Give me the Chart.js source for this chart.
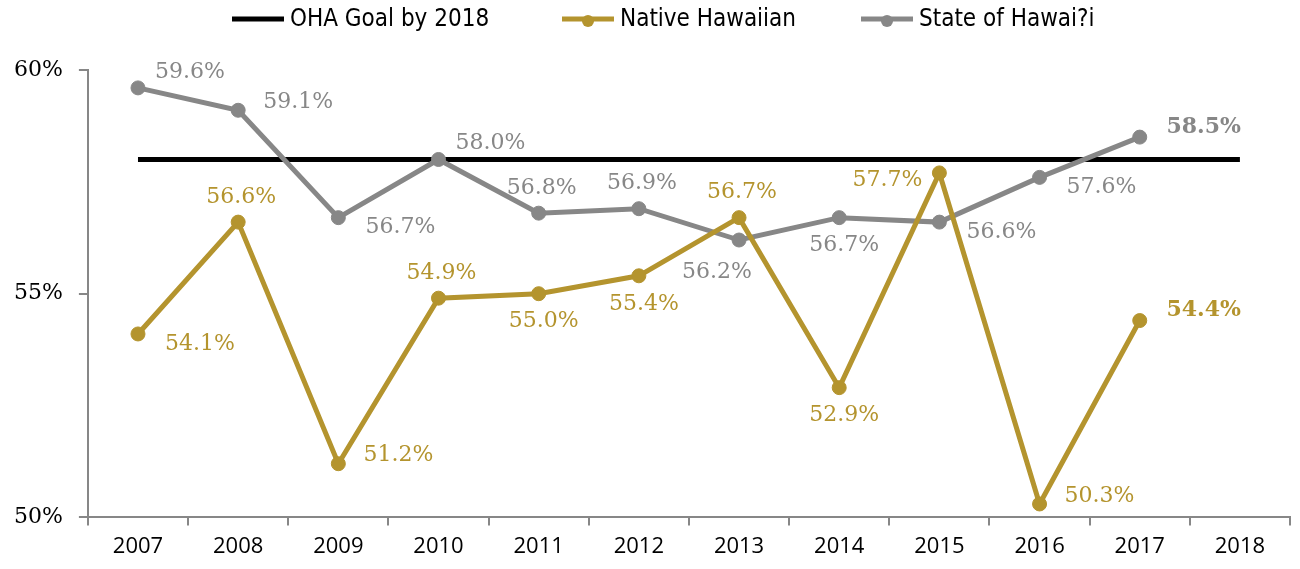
<!DOCTYPE html>
<html>
<head>
<meta charset="utf-8">
<script src="https://cdn.jsdelivr.net/npm/chart.js@4.4.1/dist/chart.umd.min.js"></script>
<style>
  html, body { margin: 0; padding: 0; background: #fff; }
  #wrap { width: 1300px; height: 569px; position: relative; }
</style>
</head>
<body>
<div id="wrap"><canvas id="chart"></canvas></div>
<script>
const years = ['2007', '2008', '2009', '2010', '2011', '2012', '2013', '2014', '2015', '2016', '2017', '2018'];
const goal = [58, 58, 58, 58, 58, 58, 58, 58, 58, 58, 58, 58];
const native = [54.1, 56.6, 51.2, 54.9, 55.0, 55.4, 56.7, 52.9, 57.7, 50.3, 54.4, null];
const state = [59.6, 59.1, 56.7, 58.0, 56.8, 56.9, 56.2, 56.7, 56.6, 57.6, 58.5, null];
const yTicks = [50, 55, 60];

// where each value label sits relative to its point
const nativePos = ['rd', 'up', 'r', 'up', 'dn', 'dn', 'up', 'dn', 'l', 'r', 'rb', null];
const statePos = ['ru', 'r', 'rd', 'ru', 'up', 'up', 'dl', 'dn', 'rd', 'rd', 'rb', null];

const GOLD = '#b4942e', GRAY = '#878787';
const serif = '"DejaVu Serif", "Liberation Serif", serif';

const offsets = {
  r: [60, -8], rd: [62, 10], ru: [52, -16], up: [3, -25], dn: [5, 28],
  dl: [-22, 32], l: [-52, 7], rb: [64, -10]
};

const labelPlugin = {
  id: 'valueLabels',
  afterDatasetsDraw(c) {
    const ctx = c.ctx;
    [[1, nativePos, GOLD], [2, statePos, GRAY]].forEach(([di, pos, col]) => {
      const meta = c.getDatasetMeta(di);
      const data = c.data.datasets[di].data;
      meta.data.forEach((pt, i) => {
        if (data[i] == null || !pos[i]) return;
        const o = offsets[pos[i]];
        ctx.save();
        ctx.fillStyle = col;
        ctx.font = (pos[i] === 'rb' ? 'bold ' : '') + '22px ' + serif;
        ctx.textAlign = 'center';
        ctx.textBaseline = 'middle';
        ctx.fillText(data[i].toFixed(1) + '%', pt.x + o[0], pt.y + o[1]);
        ctx.restore();
      });
    });
  }
};

const legendPlugin = {
  id: 'topLegend',
  afterDraw(c) {
    const ctx = c.ctx;
    const items = [
      { text: 'OHA Goal by 2018', color: '#000', x: 232, marker: false },
      { text: 'Native Hawaiian', color: GOLD, x: 562, marker: true },
      { text: 'State of Hawai?i', color: GRAY, x: 861, marker: true }
    ];
    ctx.save();
    ctx.font = '24px "Liberation Sans Narrow", "DejaVu Sans Condensed", sans-serif';
    ctx.textBaseline = 'middle';
    items.forEach(it => {
      const y = 19;
      ctx.strokeStyle = it.color;
      ctx.lineWidth = 5;
      ctx.beginPath();
      ctx.moveTo(it.x, y);
      ctx.lineTo(it.x + 52, y);
      ctx.stroke();
      if (it.marker) {
        ctx.fillStyle = it.color;
        ctx.beginPath();
        ctx.arc(it.x + 26, y + 2, 6, 0, Math.PI * 2);
        ctx.fill();
      }
      ctx.fillStyle = '#000';
      ctx.fillText(it.text, it.x + 58, y + 1);
    });
    ctx.restore();
  }
};

new Chart(document.getElementById('chart'), {
  type: 'line',
  data: {
    labels: years,
    datasets: [
      { label: 'OHA Goal by 2018', data: goal, borderColor: '#000', borderWidth: 5, pointRadius: 0, order: 3 },
      { label: 'Native Hawaiian', data: native, borderColor: GOLD, backgroundColor: GOLD, borderWidth: 5,
        pointRadius: 7, pointBorderWidth: 1, pointBorderColor: GOLD, order: 1 },
      { label: 'State of Hawai?i', data: state, borderColor: GRAY, backgroundColor: GRAY, borderWidth: 5,
        pointRadius: 7, pointBorderWidth: 1, pointBorderColor: GRAY, order: 2 }
    ]
  },
  options: {
    responsive: true,
    maintainAspectRatio: false,
    animation: false,
    layout: { padding: { top: 70, right: 10, left: -2, bottom: 0 } },
    plugins: { legend: { display: false }, tooltip: { enabled: false } },
    scales: {
      x: {
        offset: true,
        grid: { offset: true, drawOnChartArea: false, color: GRAY, tickLength: 8, lineWidth: 2 },
        border: { color: GRAY, width: 2 },
        ticks: { color: '#000', font: { family: '"Open Sans", sans-serif', size: 22, lineHeight: 0.8 }, padding: 13 }
      },
      y: {
        min: 50, max: 60,
        afterBuildTicks: s => { s.ticks = yTicks.map(v => ({ value: v })); },
        grid: { drawOnChartArea: false, color: GRAY, tickLength: 9, lineWidth: 2 },
        border: { color: GRAY, width: 2 },
        ticks: { color: '#000', font: { family: serif, size: 22 }, padding: 16, callback: v => v + '%' }
      }
    }
  },
  plugins: [labelPlugin, legendPlugin]
});
</script>
</body>
</html>
